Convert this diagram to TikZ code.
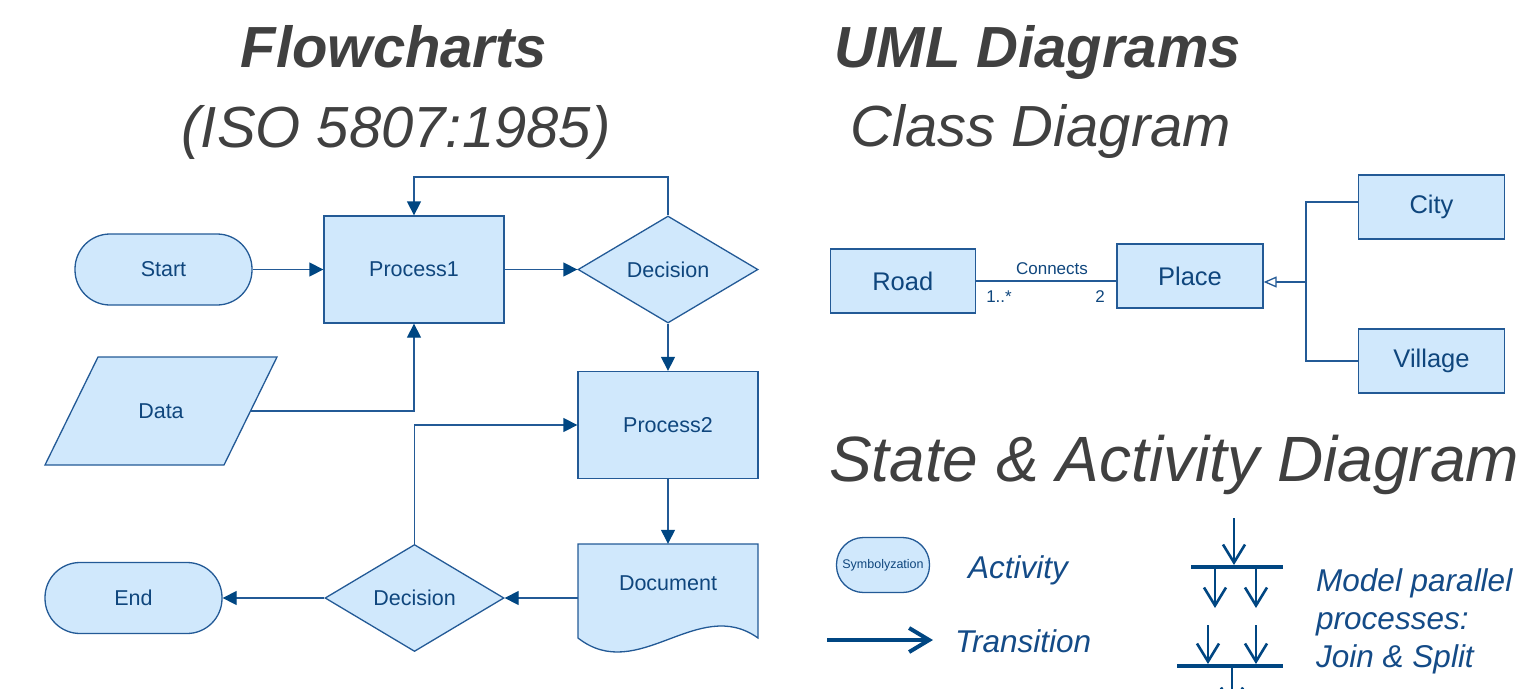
\documentclass[tikz,border=0pt]{standalone}
\usepackage{fontspec}
\setmainfont{Liberation Sans}
\usetikzlibrary{shapes.geometric,arrows.meta}
\definecolor{ln}{RGB}{35,90,150}
\definecolor{ah}{RGB}{0,70,130}
\definecolor{fl}{RGB}{208,232,252}
\definecolor{tx}{RGB}{15,70,125}
\definecolor{tt}{RGB}{64,64,64}
\definecolor{bl}{RGB}{20,75,135}
\begin{document}
\begin{tikzpicture}[x=1pt,y=-1pt,
  box/.style={draw=ln, fill=fl, line width=1.3pt, text=tx, font=\fontsize{21.5}{24}\selectfont, inner sep=0pt},
  procbox/.style={box, rectangle, minimum width=180pt, minimum height=107pt},
  termbox/.style={box, rectangle, rounded corners=35pt, minimum width=177pt, minimum height=71pt},
  decbox/.style={box, diamond, aspect=1.68, minimum width=180pt, minimum height=107pt},
  flow/.style={draw=ln, line width=1.3pt, -{Triangle[length=14pt,width=14pt,color=ah]}},
  plain/.style={text=tx, font=\fontsize{21.5}{24}\selectfont, inner sep=0pt},
  classbox/.style={draw=ln, fill=fl, line width=1.3pt, text=tx, font=\fontsize{25.5}{28}\selectfont, minimum width=146pt, minimum height=64pt, inner sep=0pt},
  assoc/.style={draw=ln, line width=1.3pt},
  gen/.style={assoc, -{Triangle[open, length=13pt, width=11pt, fill=white]}},
  small/.style={text=tx, font=\fontsize{17}{19}\selectfont, inner sep=0pt},
  title/.style={text=tt, font=\fontsize{58}{64}\selectfont\itshape, inner sep=0pt},
  btitle/.style={text=tt, font=\fontsize{58}{64}\selectfont\bfseries\itshape, inner sep=0pt},
  legend/.style={text=bl, font=\fontsize{31.5}{38}\selectfont\itshape, inner sep=0pt},
  bar/.style={draw=ah, line width=4pt},
  par/.style={draw=ah, line width=2.6pt, -{Straight Barb[length=18pt,width=22pt]}},
]
\useasboundingbox (0,0) rectangle (1522,688);
\clip (0,0) rectangle (1522,688);

% titles
\node[btitle, anchor=base] (t1) at (394,67) {Flowcharts};
\node[title, anchor=base] (t2) at (396,147) {(ISO 5807:1985)};
\node[btitle, anchor=base] (t3) at (1038,67) {UML Diagrams};
\node[title, anchor=base] (t4) at (1041,146) {Class Diagram};
\node[title, anchor=base, font=\fontsize{64}{70}\selectfont\itshape] (t5) at (1174,481) {State \& Activity Diagram};

% flowchart
\node[termbox] (start) at (163.5,269.5) {Start};
\node[procbox] (p1) at (414,269.5) {Process1};
\node[decbox] (d1) at (668,269.5) {Decision};
\draw[box] (98,357) -- (277,357) -- (224,465) -- (45,465) -- cycle;
\node[plain] (data) at (161,411) {Data};
\coordinate (dataR) at (250.5,411);
\node[procbox] (p2) at (668,425) {Process2};
\draw[box] (578,544) -- (758,544) -- (758,638) .. controls (698,595) and (638,685) .. (578,638) -- cycle;
\node[minimum width=180pt, minimum height=108pt, inner sep=0pt] (doc) at (668,598) {};
\node[plain] (doct) at (668,583) {Document};
\node[decbox, minimum width=179pt, minimum height=107pt] (d2) at (414.5,598) {Decision};
\node[termbox] (end) at (133.5,598) {End};
\coordinate (loop1) at (414,177);

\draw[flow] (start.east) -- (p1.west);
\draw[flow] (p1.east) -- (d1.west);
\draw[flow] (d1.north) |- (loop1) -- (p1.north);
\draw[flow] (dataR) -| (p1.south);
\draw[flow] (d1.south) -- (p2.north);
\draw[flow] (p2.south) -- (doc.north);
\draw[flow] (doc.west) -- (d2.east);
\draw[flow] (d2.west) -- (end.east);
\draw[flow] (d2.north) |- (p2.west);

% class diagram
\node[classbox, minimum width=145pt] (road) at (902.75,281) {Road};
\node[classbox] (place) at (1190,276) {Place};
\node[classbox] (city) at (1431.5,207) {City};
\node[classbox] (village) at (1431.5,361) {Village};
\draw[assoc] (road.east) -- (road.east -| place.west);
\node[small, anchor=base] (lc) at (1052,274) {Connects};
\node[small, anchor=base] (m1) at (999,302) {1..*};
\node[small, anchor=base] (m2) at (1100,302) {2};
\coordinate (gj) at (1306,282);
\draw[gen] (gj) -- (gj -| place.east);
\draw[assoc] ([yshift=5pt]city.west) -| (gj) |- (village.west);

% activity legend
\node[box, rectangle, rounded corners=27pt, minimum width=93pt, minimum height=55pt, font=\fontsize{12.5}{14}\selectfont] (act) at (883,565) {Symbolyzation};
\node[legend, anchor=base west] (lact) at (968,578) {Activity};
\coordinate (tra) at (827,640);
\coordinate (trb) at (933,640);
\draw[draw=ah, line width=4pt, -{Straight Barb[length=20pt,width=24pt]}] (tra) -- (trb);
\node[legend, anchor=base west] (ltr) at (955,652) {Transition};

% join & split
\coordinate (b1l) at (1191,567); \coordinate (b1r) at (1283,567);
\coordinate (b2l) at (1177,666); \coordinate (b2r) at (1283,666);
\draw[bar] (b1l) -- (b1r);
\draw[bar] (b2l) -- (b2r);
\coordinate (a0) at (1234,518); \coordinate (a0e) at (1234,565);
\coordinate (a1) at (1215,569); \coordinate (a1e) at (1215,608);
\coordinate (a2) at (1256,569); \coordinate (a2e) at (1256,608);
\coordinate (a3) at (1208,625); \coordinate (a3e) at (1208,664);
\coordinate (a4) at (1256,625); \coordinate (a4e) at (1256,664);
\coordinate (a5) at (1232,668); \coordinate (a5e) at (1232,708);
\draw[par] (a0) -- (a0e);
\draw[par] (a1) -- (a1e);
\draw[par] (a2) -- (a2e);
\draw[par] (a3) -- (a3e);
\draw[par] (a4) -- (a4e);
\draw[par] (a5) -- (a5e);
\node[legend, anchor=base west, align=left] (lpar) at (1316,591) {Model parallel};
\node[legend, anchor=base west] (lpar2) at (1316,629) {processes:};
\node[legend, anchor=base west] (lpar3) at (1316,667) {Join \& Split};
\end{tikzpicture}
\end{document}
